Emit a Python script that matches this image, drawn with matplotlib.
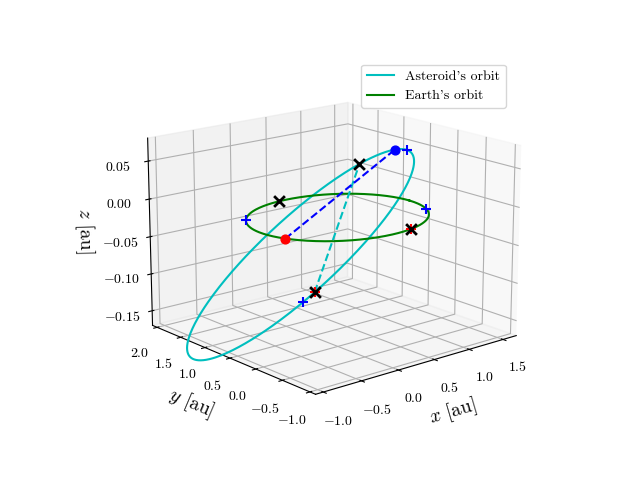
import numpy as np
import matplotlib
matplotlib.use('Agg')
import matplotlib.pyplot as plt

plt.rcParams['font.family'] = 'serif'
plt.rcParams['font.serif'] = ['cmr10']
plt.rcParams['mathtext.fontset'] = 'cm'
plt.rcParams['axes.formatter.use_mathtext'] = True

# asteroid orbital elements (a [au], e, i [deg], node [deg], arg. of perihelion [deg])
ast_a, ast_e, ast_i, ast_node, ast_peri = 1.25, 0.35, 5.3, -112.0, 95.0
earth_r = 1.0

def orbit_xyz(a, e, inc, node, peri, nu):
    nu = np.asarray(nu, dtype=float)
    r = a * (1 - e**2) / (1 + e * np.cos(nu))
    i, O, w = np.radians([inc, node, peri])
    u = nu + w
    x = r * (np.cos(O) * np.cos(u) - np.sin(O) * np.sin(u) * np.cos(i))
    y = r * (np.sin(O) * np.cos(u) + np.cos(O) * np.sin(u) * np.cos(i))
    z = r * np.sin(u) * np.sin(i)
    return x, y, z

nu = np.linspace(0, 2 * np.pi, 400)
ax_, ay_, az_ = orbit_xyz(ast_a, ast_e, ast_i, ast_node, ast_peri, nu)
ex, ey, ez = earth_r * np.cos(nu), earth_r * np.sin(nu), 0 * nu

# marker positions (true anomaly on asteroid orbit, longitude on Earth's orbit)
plus_ast_nu = np.radians([0, 235])
plus_earth_deg = np.radians([-25, 145])
pair_nu = np.radians([-120, 55])          # points joined by the dashed cyan line
earth_x_deg = np.radians([95, -75])
red_dot_deg = np.radians(-160)
blue_dot_nu = np.radians(20)

fig = plt.figure(figsize=(6.4, 4.8))
ax = fig.add_subplot(projection='3d')
ax.set_box_aspect(None, zoom=1.1)
ax.plot(ax_, ay_, az_, color='c', label="Asteroid's orbit")
ax.plot(ex, ey, ez, color='g', label="Earth's orbit")

nx_, ny_, nz_ = orbit_xyz(ast_a, ast_e, ast_i, ast_node, ast_peri, pair_nu)
ax.plot(nx_, ny_, nz_, 'c--')

px, py, pz = orbit_xyz(ast_a, ast_e, ast_i, ast_node, ast_peri, plus_ast_nu)
ax.scatter(px, py, pz, color='b', marker='+', s=60, depthshade=False)
ax.scatter(np.cos(plus_earth_deg), np.sin(plus_earth_deg), 0, color='b', marker='+', s=60, depthshade=False)
ax.scatter(nx_[0], ny_[0], nz_[0], color='r', marker='+', s=60, depthshade=False)
ax.scatter(np.cos(earth_x_deg[1]), np.sin(earth_x_deg[1]), 0, color='r', marker='+', s=60, depthshade=False)
ax.scatter(nx_, ny_, nz_, color='k', marker='x', s=60, linewidths=2, depthshade=False)
ax.scatter(np.cos(earth_x_deg), np.sin(earth_x_deg), 0, color='k', marker='x', s=60, linewidths=2, depthshade=False)
bx, by, bz = orbit_xyz(ast_a, ast_e, ast_i, ast_node, ast_peri, blue_dot_nu)
ax.scatter(bx, by, bz, color='b', s=40, depthshade=False)
ax.scatter(np.cos(red_dot_deg), np.sin(red_dot_deg), 0, color='r', s=40, depthshade=False)
ax.plot([np.cos(red_dot_deg), bx], [np.sin(red_dot_deg), by], [0, bz], 'b--')

ax.set_xlabel(r'$x$ [au]', fontsize=14)
ax.set_ylabel(r'$y$ [au]', fontsize=14)
ax.set_zlabel(r'$z$ [au]', fontsize=14)
ax.set_xticks([-1.0, -0.5, 0.0, 0.5, 1.0, 1.5])
ax.set_yticks([-1.0, -0.5, 0.0, 0.5, 1.0, 1.5, 2.0])
ax.set_zticks([-0.15, -0.10, -0.05, 0.0, 0.05])
ax.set_xlim(-1.1, 1.7)
ax.set_ylim(-1.1, 2.1)
ax.set_zlim(-0.17, 0.08)
ax.view_init(elev=16, azim=-130)
ax.legend(loc='upper right')
fig.savefig('out.png', dpi=100)
